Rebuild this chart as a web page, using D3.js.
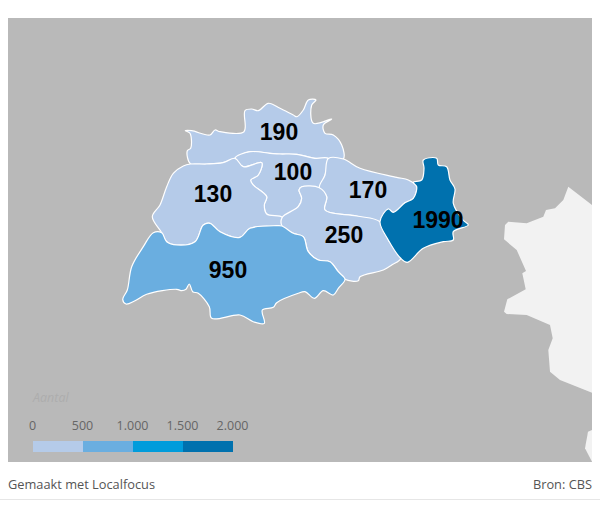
<!DOCTYPE html>
<html>
<head>
<meta charset="utf-8">
<script src="https://cdn.jsdelivr.net/npm/d3@7"></script>
<style>
html, body { margin: 0; padding: 0; background: #fff; }
svg { display: block; }
</style>
</head>
<body>
<div id="map"></div>
<script>
// values per district
const regionNames = ["noord", "centrum", "west", "oost", "zuidoost", "zuid", "buurt1990"];
const regionValues = [190, 100, 130, 170, 250, 950, 1990];

// legend
const legendBreaks = [0, 500, 1000, 1500, 2000];
const legendColors = ["#b5cbe9", "#6aaee0", "#009cdb", "#0071ae"];

const noordShape = [[185.3,130.7],[191.7,130.7],[210,135],[215,130],[220,131.7],[244,131.7],[245,110.7],[251.7,109],[258.3,110.7],[268.3,103.3],[280,108.3],[293.3,115],[297,116.7],[303.3,110],[308.3,100],[316,100],[311.7,105],[313.3,123.3],[331.7,119],[323.3,125],[325,133.3],[333.3,135],[341.7,145],[343.3,159],[328.3,158.5],[315,158.3],[296.7,154.3],[280,154],[270,153.3],[250,151.7],[235,158.3],[223,162.7],[206.7,164],[190.5,164],[187.3,150.7],[190.7,148.3],[190,133.3]];
const centrumShape = [[235,158.3],[250,151.7],[270,153.3],[280,154],[296.7,154.3],[315,158.3],[328.3,158.5],[325,175],[319.3,187.7],[301.7,186.7],[299,190],[301.7,198.3],[298.3,206.7],[282.3,217.3],[266.7,214],[264.3,205],[266.7,196.7],[253.3,185],[250.7,180],[258.3,175],[261.7,162.7],[243.3,166.7]];
const westShape = [[235,158.3],[243.3,166.7],[261.7,162.7],[258.3,175],[250.7,180],[253.3,185],[266.7,196.7],[264.3,205],[266.7,214],[282.3,217.3],[282,226],[276.7,225.7],[250,228.3],[240,237.3],[220,231.7],[210,223.3],[203.3,225],[195,241.7],[176.7,245],[166.7,241.7],[161.7,232.7],[152.3,216.7],[160,205],[166.7,186.7],[173.3,173.3],[183.3,166],[190.5,164],[206.7,164],[223,162.7]];
const oostShape = [[328.3,158.5],[343.3,159],[360,168.3],[396.7,177.3],[408.3,180],[416.7,186.7],[413.3,198.3],[405,202.7],[393.3,212.3],[388.3,209],[380,221.7],[356.7,216],[325,210],[326.7,196.7],[319.3,187.7],[325,175]];
const zuidoostShape = [[319.3,187.7],[326.7,196.7],[325,210],[356.7,216],[380,221.7],[388.3,240],[400.7,258.3],[391.7,265],[383.3,270],[360,276.7],[358.3,280.7],[345,279.3],[338.3,271.7],[330,261.7],[318.3,260],[308.3,251.7],[303.3,236.7],[293.3,233.3],[282,226],[282.3,217.3],[298.3,206.7],[301.7,198.3],[299,190],[301.7,186.7]];
const zuidShape = [[161.7,232.7],[153.3,232.7],[143.3,246.7],[131.7,266.7],[127.3,290],[122.7,299.3],[126,304],[135,300.7],[146.7,294.3],[176.7,289.3],[181.7,290.7],[186,289.3],[189.3,284],[192.7,291.7],[198.3,293.3],[209.3,306.7],[211.7,318.3],[240,315],[253.3,321.7],[264.3,323.3],[262.3,310],[273.3,307.3],[276.7,302.7],[298.3,293.3],[305,291.7],[314.3,298.3],[323.3,290.7],[333.3,295],[338.3,288.3],[345,279.3],[338.3,271.7],[330,261.7],[318.3,260],[308.3,251.7],[303.3,236.7],[293.3,233.3],[282,226],[276.7,225.7],[250,228.3],[240,237.3],[220,231.7],[210,223.3],[203.3,225],[195,241.7],[176.7,245],[166.7,241.7]];
const buurtShape = [[416.7,186.7],[413.3,182.3],[421.7,180],[424,168.3],[423.3,160],[436.7,158.3],[438.3,165],[446.7,166.7],[450,180],[455,189],[453.3,203.3],[463,220],[468.3,225],[453.3,231.7],[453.3,240],[443.3,241.7],[423.3,248.3],[407.3,262.3],[400.7,258.3],[388.3,240],[380,221.7],[388.3,209],[393.3,212.3],[405,202.7],[413.3,198.3]];
const regionShapes = [noordShape, centrumShape, westShape, oostShape, zuidoostShape, zuidShape, buurtShape];

// where the value goes in each district
const labelPoints = [[279,132],[293,171.5],[213,193.5],[368,189.5],[344,235],[228,269.5],[438,220]];

// land across the border
const borderLand = [[568.3,186.7],[592,205],[592,392.7],[560,380],[550,371.7],[548.3,350],[552.7,338.3],[550,325],[526.7,315],[506.7,314],[504,311.7],[507.3,299.3],[525.7,289.3],[522.3,273.3],[526,271],[516.7,250],[504,239.3],[505,225],[508.3,221.7],[526.7,223.3],[543.3,216.7],[546,210],[555,208.3],[563.3,200]];
const borderLandSouth = [[592,430],[588,431.7],[585,448.3],[592,461.7]];

const width = 600;
const height = 506;
const mapBox = { x: 8, y: 18, w: 584, h: 444 };

const svg = d3.select("#map")
    .append("svg")
    .attr("width", width)
    .attr("height", height);

const toFeature = (ring, props) => ({
    type: "Feature",
    properties: props || {},
    geometry: { type: "Polygon", coordinates: [ring.concat([ring[0]])] }
});
const geoPath = d3.geoPath(d3.geoIdentity());

// the districts are drawn smoothed, the source map has soft outlines
const smoothRing = d3.line().curve(d3.curveCatmullRomClosed.alpha(0.5));

// map background
svg.append("rect")
    .attr("x", mapBox.x)
    .attr("y", mapBox.y)
    .attr("width", mapBox.w)
    .attr("height", mapBox.h)
    .attr("fill", "#b9b9b9");

svg.selectAll("path.land")
    .data([borderLand, borderLandSouth].map(r => toFeature(r)))
    .enter()
    .append("path")
    .attr("class", "land")
    .attr("d", geoPath)
    .attr("fill", "#f2f2f2");

const color = d3.scaleThreshold()
    .domain(legendBreaks.slice(1, -1))
    .range(legendColors);

const regions = regionNames.map((name, i) => ({
    name: name,
    value: regionValues[i],
    ring: regionShapes[i],
    label: labelPoints[i]
}));

svg.selectAll("path.region")
    .data(regions)
    .enter()
    .append("path")
    .attr("class", "region")
    .attr("d", d => smoothRing(d.ring))
    .attr("fill", d => color(d.value))
    .attr("stroke", "#fff")
    .attr("stroke-width", 1.2)
    .attr("stroke-linejoin", "round");

svg.selectAll("text.value")
    .data(regions)
    .enter()
    .append("text")
    .attr("class", "value")
    .attr("x", d => d.label[0])
    .attr("y", d => d.label[1])
    .attr("dy", "0.36em")
    .attr("text-anchor", "middle")
    .style("font-family", "'Liberation Sans', Arial, sans-serif")
    .style("font-size", "23px")
    .style("font-weight", "bold")
    .style("fill", "#000")
    .text(d => d.value);

// legend
const legendX = d3.scaleLinear()
    .domain([0, 2000])
    .range([33, 233]);

svg.selectAll("rect.legend")
    .data(legendColors)
    .enter()
    .append("rect")
    .attr("class", "legend")
    .attr("x", (d, i) => legendX(legendBreaks[i]))
    .attr("y", 441)
    .attr("width", (d, i) => legendX(legendBreaks[i + 1]) - legendX(legendBreaks[i]))
    .attr("height", 11)
    .attr("fill", d => d);

const legendAxis = svg.append("g")
    .attr("transform", "translate(-1, 430)")
    .call(d3.axisTop(legendX)
        .tickValues(legendBreaks)
        .tickSize(0)
        .tickPadding(0)
        .tickFormat(d => d3.format(",")(d).replace(",", ".")));
legendAxis.select(".domain").remove();
legendAxis.selectAll("text")
    .style("font-family", "'Open Sans', sans-serif")
    .style("font-size", "12.5px")
    .style("fill", "#666");

svg.append("text")
    .attr("x", 33)
    .attr("y", 402)
    .style("font-family", "'Open Sans', sans-serif")
    .style("font-size", "12.5px")
    .style("font-style", "italic")
    .style("fill", "#adadad")
    .text("Aantal");

// footer
svg.append("text")
    .attr("x", 8)
    .attr("y", 489)
    .style("font-family", "'Open Sans', sans-serif")
    .style("font-size", "12.8px")
    .style("fill", "#555")
    .text("Gemaakt met Localfocus");

svg.append("text")
    .attr("x", 592)
    .attr("y", 489)
    .attr("text-anchor", "end")
    .style("font-family", "'Open Sans', sans-serif")
    .style("font-size", "12.8px")
    .style("fill", "#555")
    .text("Bron: CBS");

svg.append("line")
    .attr("x1", 0)
    .attr("x2", width)
    .attr("y1", 499.5)
    .attr("y2", 499.5)
    .attr("stroke", "#e6e6e6");
</script>
</body>
</html>
